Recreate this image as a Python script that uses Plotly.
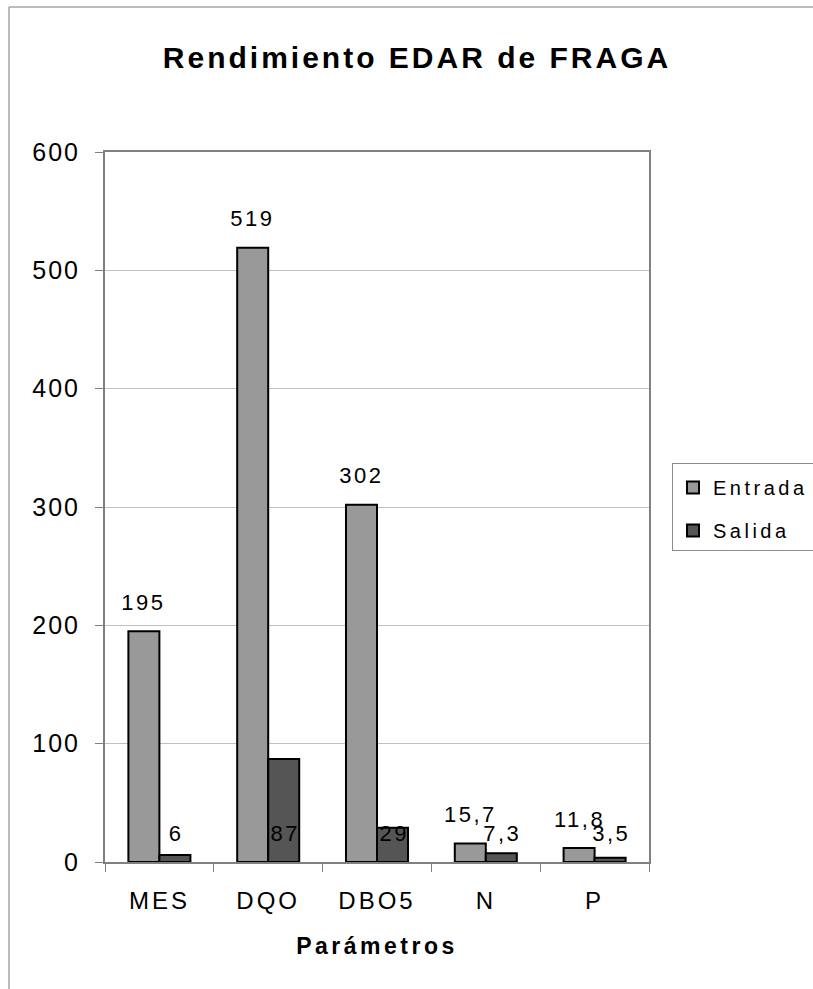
import plotly.graph_objects as go

# Parámetros de calidad del agua, entrada y salida de la depuradora
categorias = ["MES", "DQO", "DBO5", "N", "P"]
entrada = [195, 519, 302, 15.7, 11.8]
salida = [6, 87, 29, 7.3, 3.5]
y_ticks = [0, 100, 200, 300, 400, 500, 600]

FONT = "Liberation Sans, Arial, sans-serif"
C_ENTRADA = "#999999"
C_SALIDA = "#555555"


def fmt(v):
    return f"{v:g}".replace(".", ",")


fig = go.Figure()
fig.add_trace(go.Bar(
    x=categorias, y=entrada, name="Entrada", legendgroup="e",
    marker=dict(color=C_ENTRADA, line=dict(color="#000000", width=2)),
    hoverinfo="skip",
))
fig.add_trace(go.Bar(
    x=categorias, y=salida, name="Salida", legendgroup="s",
    marker=dict(color=C_SALIDA, line=dict(color="#000000", width=2)),
    hoverinfo="skip",
))

# Etiquetas de valor: entrada sobre cada barra, salida a altura fija
half_bar = 15.5
lbl_font = dict(family=FONT, size=22, color="#000")
annotations = []
for cat, v in zip(categorias, entrada):
    annotations.append(dict(
        x=cat, y=v, xref="x", yref="y", text=fmt(v), showarrow=False,
        xshift=-half_bar, yshift=29, font=lbl_font,
    ))
for cat, v in zip(categorias, salida):
    annotations.append(dict(
        x=cat, y=0, xref="x", yref="y", text=fmt(v), showarrow=False,
        xshift=half_bar + 1, yshift=29, font=lbl_font,
    ))

# Marco exterior del gráfico (bordes superior e izquierdo)
L, R, T, B = 105, 164, 152, 127
W, H = 813, 989
pw, ph = W - L - R, H - T - B
fx = lambda px: (px - L) / pw
fy = lambda py: (H - B - py) / ph
shapes = [
    dict(type="line", xref="paper", yref="paper", x0=fx(9), x1=fx(813), y0=fy(7), y1=fy(7),
         line=dict(color="#a6a6a6", width=1.5)),
    dict(type="line", xref="paper", yref="paper", x0=fx(9), x1=fx(9), y0=fy(7), y1=fy(989),
         line=dict(color="#a6a6a6", width=1.5)),
]

fig.update_layout(
    width=W, height=H,
    margin=dict(l=L, r=R, t=T, b=B, autoexpand=False),
    paper_bgcolor="#ffffff", plot_bgcolor="#ffffff",
    font=dict(family=FONT, color="#000000"),
    title=dict(
        text="<b>Rendimiento EDAR de FRAGA</b>", x=fx(417), xref="paper", xanchor="center",
        y=1 - 57 / H, yref="container", yanchor="middle",
        font=dict(family=FONT, size=30, color="#000"),
    ),
    barmode="group", bargap=0.43, bargroupgap=0,
    showlegend=True,
    legend=dict(
        x=fx(672), y=fy(463), xanchor="left", yanchor="top",
        bordercolor="#8c8c8c", borderwidth=1, bgcolor="#ffffff",
        font=dict(family=FONT, size=20, color="#000"),
        title=dict(text=" ", font=dict(family=FONT, size=3)),
        tracegroupgap=14, traceorder="grouped", itemclick=False,
        itemwidth=30,
    ),
    xaxis=dict(
        type="category", tickson="boundaries", ticks="outside", ticklen=8,
        tickcolor="#808080", tickwidth=1,
        showline=True, linecolor="#808080", linewidth=2, mirror=True,
        showgrid=False, tickfont=dict(family=FONT, size=24, color="#000"),
        ticklabelstandoff=16,
        title=dict(text="<b>Parámetros</b>", font=dict(family=FONT, size=23, color="#000"),
                   standoff=25),
        fixedrange=True,
    ),
    yaxis=dict(
        range=[0, 600], tickvals=y_ticks, ticks="outside", ticklen=8,
        tickcolor="#808080", tickwidth=1,
        showline=True, linecolor="#808080", linewidth=2, mirror=True,
        showgrid=True, gridcolor="#c0c0c0", gridwidth=1,
        zeroline=False,
        tickfont=dict(family=FONT, size=25, color="#000"),
        ticklabelstandoff=10,
        fixedrange=True,
    ),
    annotations=annotations,
    shapes=shapes,
)

# Espaciado entre letras de los textos del gráfico
post = """
var st = document.createElement('style');
st.textContent = '.gtitle{letter-spacing:3px}' +
  '.xtick text{letter-spacing:3px}' +
  '.ytick text{letter-spacing:2px}' +
  '.annotation-text{letter-spacing:2.5px}' +
  '.xtitle{letter-spacing:3.5px}' +
  '.legendtext{letter-spacing:3.5px}';
document.head.appendChild(st);
var gd = document.getElementById('{plot_id}');
Plotly.relayout(gd, {'legend.font.size': 20.01});
"""

fig.write_html("out.html", post_script=post, config={"displayModeBar": False})
